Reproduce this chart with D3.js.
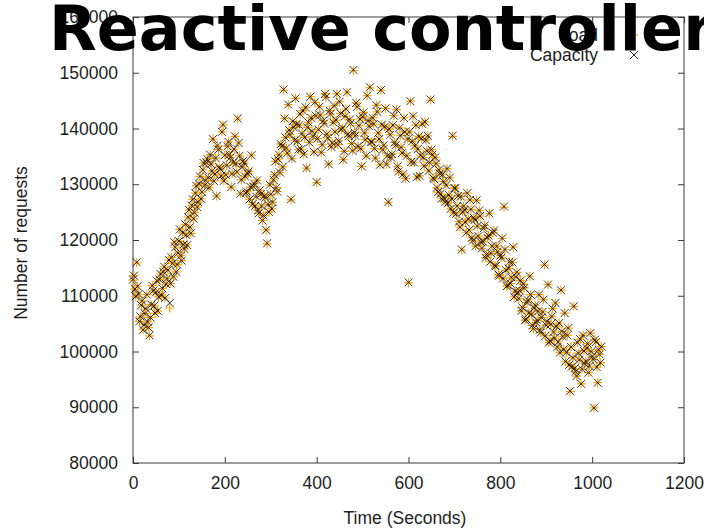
<!DOCTYPE html>
<html>
<head>
<meta charset="utf-8">
<script src="https://cdn.jsdelivr.net/npm/d3@7"></script>
<style>
  html, body { margin: 0; padding: 0; background: #ffffff; }
  svg { display: block; }
</style>
</head>
<body>
<script>
// one sample every 2 seconds, t = 0 .. 1020
const timeStep = 2;

const load = [
  112800, 113600, 111200, 109900, 115900, 111700, 110300, 105400, 106200, 108300, 109100, 103900, 104800, 106800, 107600, 110200, 105300, 104300, 102800, 106100,
  108400, 111800, 110900, 108200, 106900, 110600, 112600, 107300, 109800, 112900, 113900, 110100, 111300, 114300, 115200, 109600, 112100, 113100, 114600, 116400,
  107800, 112200, 116900, 115800, 113400, 119600, 118700, 114300, 115600, 117700, 119800, 121900, 117200, 116300, 121300, 119200, 118400, 122800, 120900, 119100,
  124100, 125400, 122300, 121200, 126200, 127300, 123800, 124900, 128400, 129700, 125900, 126800, 130100, 131400, 127400, 128600, 132600, 133800, 129800, 130700,
  133900, 134500, 131200, 129400, 135300, 133600, 132400, 138100, 130600, 131800, 134700, 127900, 136900, 136200, 133100, 132700, 131500, 139400, 140600, 130600,
  135200, 131700, 133400, 136800, 137600, 135300, 134800, 129500, 131900, 133900, 136300, 138600, 133700, 132200, 141700, 137400, 135100, 128300, 130800, 133100,
  134200, 133800, 131400, 128400, 128700, 131900, 132300, 127300, 129500, 135200, 126400, 129600, 130100, 126100, 127800, 130700, 125300, 124800, 128900, 128200,
  126100, 123500, 124400, 127900, 127600, 121800, 119300, 126400, 125000, 129900, 128200, 125600, 126800, 130800, 131700, 134100, 129400, 128700, 134500, 135300,
  132100, 137200, 136800, 133100, 146900, 141800, 138400, 136500, 135600, 144300, 139700, 138900, 127200, 134600, 141300, 140200, 137900, 145400, 140800, 137700,
  136200, 140600, 142600, 136300, 139100, 143200, 135400, 138400, 143800, 132900, 140200, 141100, 137500, 145700, 141900, 139500, 138600, 135800, 144700, 142300,
  130300, 138200, 139800, 143900, 142400, 135700, 137100, 141400, 140900, 146200, 145600, 139000, 138300, 133600, 143200, 142600, 136700, 137400, 141100, 144100,
  139400, 141500, 146200, 137100, 137800, 144800, 142700, 139800, 140100, 134400, 135900, 142200, 143500, 146500, 139000, 138600, 141600, 140900, 137300, 136000,
  150400, 139300, 138700, 144600, 143900, 136800, 140500, 141700, 136400, 133200, 142100, 142900, 139200, 138000, 135100, 145900, 141400, 140400, 147300, 137600,
  137600, 141900, 140800, 136400, 134700, 144200, 143000, 139200, 138100, 133500, 146900, 140700, 136200, 137000, 140300, 143600, 133600, 135100, 126700, 139900,
  138900, 134800, 135400, 140600, 142300, 137500, 137000, 143400, 133200, 132300, 140100, 138700, 136600, 135600, 131800, 141900, 139400, 131000, 135100, 138100,
  112300, 139400, 144900, 134000, 137700, 142200, 133900, 136900, 140600, 131300, 136300, 138600, 131500, 135200, 138200, 140800, 134800, 133300, 141200, 137900,
  136000, 138700, 132400, 133900, 145100, 136200, 135300, 131100, 130900, 134800, 133700, 129400, 128600, 132600, 131900, 128300, 127400, 131700, 130500, 127500,
  126800, 129800, 132800, 126600, 128100, 131200, 125600, 127400, 138600, 124900, 129300, 129300, 124700, 126100, 127900, 123300, 122300, 127800, 118200, 125000,
  126100, 125400, 123200, 121300, 128400, 123800, 121800, 127200, 125500, 120400, 119900, 124000, 123600, 118900, 127100, 122500, 120700, 125300, 124300, 119600,
  118500, 119700, 122100, 122600, 116800, 117400, 120400, 120800, 124800, 116100, 117600, 118900, 121300, 121700, 115400, 115300, 118900, 117900, 113800, 113600,
  117200, 116800, 120300, 113100, 125900, 118300, 114600, 111700, 111900, 114900, 116100, 112200, 113300, 116000, 118700, 109800, 110800, 113400, 114200, 110600,
  109500, 110900, 112700, 107300, 107900, 112100, 111400, 105600, 105800, 108800, 109200, 106900, 113500, 110200, 106700, 104700, 104100, 107800, 108300, 105200,
  105600, 107200, 110200, 103900, 103400, 106100, 107100, 109300, 115500, 102800, 104700, 105400, 112000, 101600, 101900, 104900, 106300, 107700, 103500, 102400,
  108700, 104500, 100800, 101700, 105100, 99800, 111000, 103600, 102700, 100400, 106900, 98200, 99800, 102900, 104200, 97600, 92800, 100800, 97300, 98900,
  108100, 97000, 96400, 95600, 101600, 99700, 98500, 102200, 94200, 96800, 102900, 100100, 97800, 98300, 100600, 101400, 96200, 97400, 103300, 100000,
  99100, 98600, 89900, 102100, 101700, 97200, 94400, 100300, 99500, 98000, 100900
];

const capacity = [
  112900, 113600, 111200, 109900, 116000, 111700, 110300, 105400, 106300, 108300, 109100, 103900, 104800, 106800, 107700, 110200, 105300, 104300, 102900, 106100,
  108400, 111800, 110900, 108200, 106900, 110600, 112700, 107300, 109800, 112900, 113900, 110100, 111300, 114300, 115200, 109600, 112100, 113100, 114600, 116400,
  108700, 112200, 116900, 115800, 113400, 119600, 118700, 114300, 115600, 117700, 119800, 121900, 117200, 116300, 121300, 119200, 118400, 122800, 120900, 119100,
  124100, 125400, 122300, 121200, 126200, 127300, 123800, 124900, 128400, 129700, 125900, 126800, 130100, 131400, 127400, 128600, 132600, 133800, 129800, 130700,
  133900, 134500, 131200, 129400, 135300, 133600, 132400, 138100, 130600, 131800, 134700, 127900, 136900, 136200, 133100, 132700, 131500, 139400, 140700, 130600,
  135200, 131700, 133400, 136800, 137600, 135300, 134800, 129500, 131900, 133900, 136300, 138600, 133700, 132200, 141800, 137400, 135100, 128300, 130800, 133100,
  134200, 133800, 131400, 128400, 128700, 131900, 132300, 127300, 129500, 135200, 126400, 129600, 130100, 126100, 127800, 130700, 125300, 124800, 128900, 128200,
  126100, 123500, 124400, 127900, 127600, 121800, 119400, 126400, 125000, 129900, 128200, 125600, 126800, 130800, 131700, 134100, 129400, 128700, 134500, 135300,
  132100, 137200, 136800, 133100, 147000, 141800, 138400, 136500, 135600, 144300, 139700, 138900, 127300, 134600, 141300, 140200, 137900, 145400, 140800, 137700,
  136200, 140600, 142600, 136300, 139100, 143200, 135400, 138400, 143800, 132900, 140200, 141100, 137500, 145700, 141900, 139500, 138600, 135800, 144700, 142300,
  130400, 138200, 139800, 143900, 142400, 135700, 137100, 141400, 140900, 146200, 145600, 139000, 138300, 133600, 143200, 142600, 136700, 137400, 141100, 144100,
  139400, 141500, 146200, 137100, 137800, 144800, 142700, 139800, 140100, 134400, 135900, 142200, 143500, 146500, 139000, 138600, 141600, 140900, 137300, 136000,
  150500, 139300, 138700, 144600, 143900, 136800, 140500, 141700, 136400, 133200, 142100, 142900, 139200, 138000, 135100, 145900, 141400, 140400, 147400, 137600,
  137600, 141900, 140800, 136400, 134700, 144200, 143000, 139200, 138100, 133500, 146900, 140700, 136200, 137000, 140300, 143600, 133600, 135100, 126800, 139900,
  138900, 134800, 135400, 140600, 142300, 137500, 137000, 143400, 133200, 132300, 140100, 138700, 136600, 135600, 131800, 141900, 139400, 131000, 135100, 138100,
  112400, 139400, 144900, 134000, 137700, 142200, 133900, 136900, 140600, 131300, 136300, 138600, 131500, 135200, 138200, 140800, 134800, 133300, 141200, 137900,
  136000, 138700, 132400, 133900, 145200, 136200, 135300, 131100, 130900, 134800, 133700, 129400, 128600, 132600, 131900, 128300, 127400, 131700, 130500, 127500,
  126800, 129800, 132800, 126600, 128100, 131200, 125600, 127400, 138700, 124900, 129300, 129300, 124700, 126100, 127900, 123300, 122300, 127800, 118300, 125000,
  126100, 125400, 123200, 121300, 128400, 123800, 121800, 127200, 125500, 120400, 119900, 124000, 123600, 118900, 127100, 122500, 120700, 125300, 124300, 119600,
  118500, 119700, 122100, 122600, 116800, 117400, 120400, 120800, 124800, 116100, 117600, 118900, 121300, 121700, 115400, 115300, 118900, 117900, 113800, 113600,
  117200, 116800, 120300, 113100, 126000, 118300, 114600, 111700, 111900, 114900, 116100, 112200, 113300, 116000, 118700, 109800, 110800, 113400, 114200, 110600,
  109500, 110900, 112700, 107300, 107900, 112100, 111400, 105600, 105800, 108800, 109200, 106900, 113500, 110200, 106700, 104700, 104100, 107800, 108300, 105200,
  105600, 107200, 110200, 103900, 103400, 106100, 107100, 109300, 115600, 102800, 104700, 105400, 112000, 101600, 101900, 104900, 106300, 107700, 103500, 102400,
  108700, 104500, 100800, 101700, 105100, 99800, 111000, 103600, 102700, 100400, 106900, 98200, 99800, 102900, 104200, 97600, 92900, 100800, 97300, 98900,
  108100, 97000, 96400, 95600, 101600, 99700, 98500, 102200, 94200, 96800, 102900, 100100, 97800, 98300, 100600, 101400, 96200, 97400, 103300, 100000,
  99100, 98600, 89900, 102100, 101700, 97200, 94400, 100300, 99500, 98000, 100900
];

const xTicks = [0, 200, 400, 600, 800, 1000, 1200];
const yTicks = [80000, 90000, 100000, 110000, 120000, 130000, 140000, 150000, 160000];

const width = 704;
const height = 528;
const plot = { left: 133, right: 684, top: 17, bottom: 463 };
const textFont = "'Liberation Sans', Arial, Helvetica, sans-serif";
const fontSize = 17.5;
const axisColor = "#3a3a3a";
const textColor = "#1e1e1e";
const loadColor = "#ffa500";

const x = d3.scaleLinear().domain([0, 1200]).range([plot.left, plot.right]);
const y = d3.scaleLinear().domain([80000, 160000]).range([plot.bottom, plot.top]);

const svg = d3.select("body")
  .append("svg")
  .attr("width", width)
  .attr("height", height)
  .attr("viewBox", `0 0 ${width} ${height}`);

// axes: gnuplot style, ticks pointing inward and mirrored on the opposite side
function styleAxis(g) {
  g.select(".domain").remove();
  g.selectAll(".tick line").attr("stroke", axisColor);
  g.selectAll(".tick text")
    .attr("fill", textColor)
    .attr("font-family", textFont)
    .attr("font-size", fontSize);
}

svg.append("g")
  .attr("transform", `translate(0,${plot.bottom})`)
  .call(d3.axisBottom(x).tickValues(xTicks).tickSize(-6).tickPadding(14).tickFormat(d3.format("d")))
  .call(styleAxis);

svg.append("g")
  .attr("transform", `translate(${plot.left},0)`)
  .call(d3.axisLeft(y).tickValues(yTicks).tickSize(-6).tickPadding(15).tickFormat(d3.format("d")))
  .call(styleAxis);

svg.append("g")
  .attr("transform", `translate(0,${plot.top})`)
  .call(d3.axisTop(x).tickValues(xTicks).tickSize(-6).tickFormat(""))
  .call(styleAxis);

svg.append("g")
  .attr("transform", `translate(${plot.right},0)`)
  .call(d3.axisRight(y).tickValues(yTicks).tickSize(-6).tickFormat(""))
  .call(styleAxis);

svg.append("rect")
  .attr("x", plot.left)
  .attr("y", plot.top)
  .attr("width", plot.right - plot.left)
  .attr("height", plot.bottom - plot.top)
  .attr("fill", "none")
  .attr("stroke", axisColor)
  .attr("stroke-width", 1);

// point markers
const plusPath = "M-4.5,0H4.5M0,-4.5V4.5";
const crossPath = "M-4,-4L4,4M-4,4L4,-4";

svg.append("g")
  .selectAll("path")
  .data(load)
  .join("path")
  .attr("transform", (d, i) => `translate(${x(i * timeStep)},${y(d)})`)
  .attr("d", plusPath)
  .attr("stroke", loadColor)
  .attr("stroke-width", 1.2)
  .attr("fill", "none");

svg.append("g")
  .selectAll("path")
  .data(capacity)
  .join("path")
  .attr("transform", (d, i) => `translate(${x(i * timeStep)},${y(d)})`)
  .attr("d", crossPath)
  .attr("stroke", "#000000")
  .attr("stroke-opacity", 0.8)
  .attr("stroke-width", 1)
  .attr("fill", "none");

// legend
const legendItems = [
  { label: "Load", path: plusPath, color: loadColor, width: 1.2 },
  { label: "Capacity", path: crossPath, color: "#000000", width: 1 }
];

const legend = svg.append("g");
legendItems.forEach((item, i) => {
  const cy = 35 + i * 20;
  legend.append("text")
    .attr("x", 598)
    .attr("y", cy + 6)
    .attr("text-anchor", "end")
    .attr("fill", textColor)
    .attr("font-family", textFont)
    .attr("font-size", fontSize)
    .text(item.label);
  legend.append("path")
    .attr("transform", `translate(634,${cy})`)
    .attr("d", item.path)
    .attr("stroke", item.color)
    .attr("stroke-width", item.width)
    .attr("stroke-opacity", i === 1 ? 0.8 : 1)
    .attr("fill", "none");
});

// axis titles
svg.append("text")
  .attr("x", 405)
  .attr("y", 524)
  .attr("text-anchor", "middle")
  .attr("fill", textColor)
  .attr("font-family", textFont)
  .attr("font-size", fontSize)
  .text("Time (Seconds)");

svg.append("text")
  .attr("transform", `translate(27,${(plot.top + plot.bottom) / 2 + 3}) rotate(-90)`)
  .attr("text-anchor", "middle")
  .attr("fill", textColor)
  .attr("font-family", textFont)
  .attr("font-size", fontSize)
  .text("Number of requests");

// title, drawn last so it sits over the top tick label like the original
svg.append("text")
  .attr("x", 49)
  .attr("y", 50)
  .attr("fill", "#000000")
  .attr("font-family", "'DejaVu Sans', sans-serif")
  .attr("font-weight", "bold")
  .attr("font-size", 62)
  .text("Reactive controller");
</script>
</body>
</html>
